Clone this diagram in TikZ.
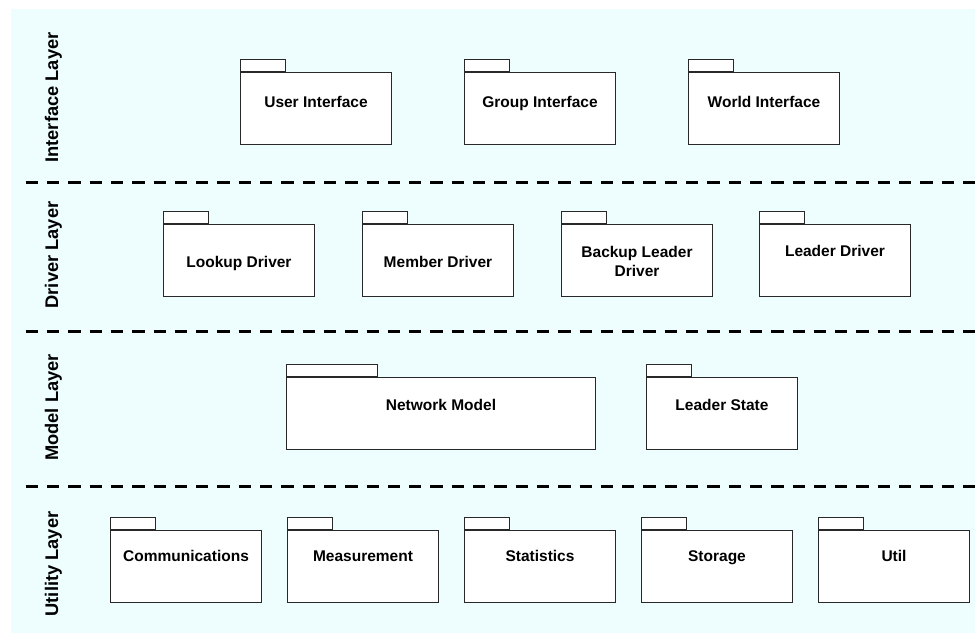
\documentclass[tikz,border=0pt]{standalone}
\usepackage{fontspec}
\usetikzlibrary{calc}
\newfontfamily\arialfam{Liberation Sans}
\definecolor{bandbg}{RGB}{238,254,255}
\definecolor{edge}{RGB}{40,40,40}
\tikzset{
  pkgbody/.style={draw=edge, fill=white, line width=1pt, inner sep=0pt, anchor=north west,
                  minimum width=151pt, minimum height=72pt},
  pkgtab/.style={draw=edge, fill=white, line width=1pt, inner sep=0pt, anchor=south west,
                 minimum width=45pt, minimum height=12pt},
  pkgtext/.style={font=\arialfam\bfseries\fontsize{15.5}{18.3}\selectfont, anchor=base,
                  inner sep=0pt, align=center},
  layerlabel/.style={font=\arialfam\bfseries\fontsize{18.3}{20}\selectfont, rotate=90,
                     anchor=base, inner sep=0pt},
  divider/.style={line width=3pt, dash pattern=on 12.3pt off 9pt}
}
% \pkg{name}{x}{y}{width}{tab width}{baseline of last text line}{text}
\newcommand{\pkg}[7]{%
  \node[pkgbody, minimum width=#4pt] (#1) at (#2,#3) {};
  \node[pkgtab, minimum width=#5pt] (#1-tab) at (#1.north west) {};
  \node[pkgtext] (#1-text) at ($(#1.north)+(0,#6-#3)$) {#7};
}
\begin{document}
\begin{tikzpicture}[x=1pt, y=-1pt]
  \useasboundingbox (0,0) rectangle (975,634);
  \fill[bandbg] (11,9) rectangle (975,633);

  % layer dividers
  \foreach \n/\yy in {1/182.3, 2/331.7, 3/486.7} {
    \coordinate (div\n-l) at (25.7,\yy);
    \coordinate (div\n-r) at (975,\yy);
    \draw[divider] (div\n-l) -- (div\n-r);
  }

  % layer names
  \node[layerlabel] (lay-interface) at (58,97.5) {Interface Layer};
  \node[layerlabel] (lay-driver) at (58,255) {Driver Layer};
  \node[layerlabel] (lay-model) at (58,407.5) {Model Layer};
  \node[layerlabel] (lay-utility) at (58,564) {Utility Layer};

  % interface layer
  \pkg{userif}{240}{72}{151}{45}{107.3}{User Interface}
  \pkg{groupif}{464}{72}{151}{45}{107.3}{Group Interface}
  \pkg{worldif}{688}{72}{151}{45}{107.3}{World Interface}

  % driver layer
  \pkg{lookup}{163}{224}{151}{45}{267}{Lookup Driver}
  \pkg{member}{362}{224}{151}{45}{267}{Member Driver}
  \pkg{backup}{561}{224}{151}{45}{276}{Backup Leader\\Driver}
  \pkg{leaderdrv}{759}{224}{151}{45}{256.7}{Leader Driver}

  % model layer
  \pkg{netmodel}{286}{377}{309}{91}{410}{Network Model}
  \pkg{leaderstate}{646}{377}{151}{45}{410}{Leader State}

  % utility layer
  \pkg{comm}{110}{529.5}{151}{45}{561.7}{Communications}
  \pkg{measure}{287}{529.5}{151}{45}{561.7}{Measurement}
  \pkg{stats}{464}{529.5}{151}{45}{561.7}{Statistics}
  \pkg{storage}{641}{529.5}{151}{45}{561.7}{Storage}
  \pkg{util}{818}{529.5}{151}{45}{561.7}{Util}
\end{tikzpicture}
\end{document}
